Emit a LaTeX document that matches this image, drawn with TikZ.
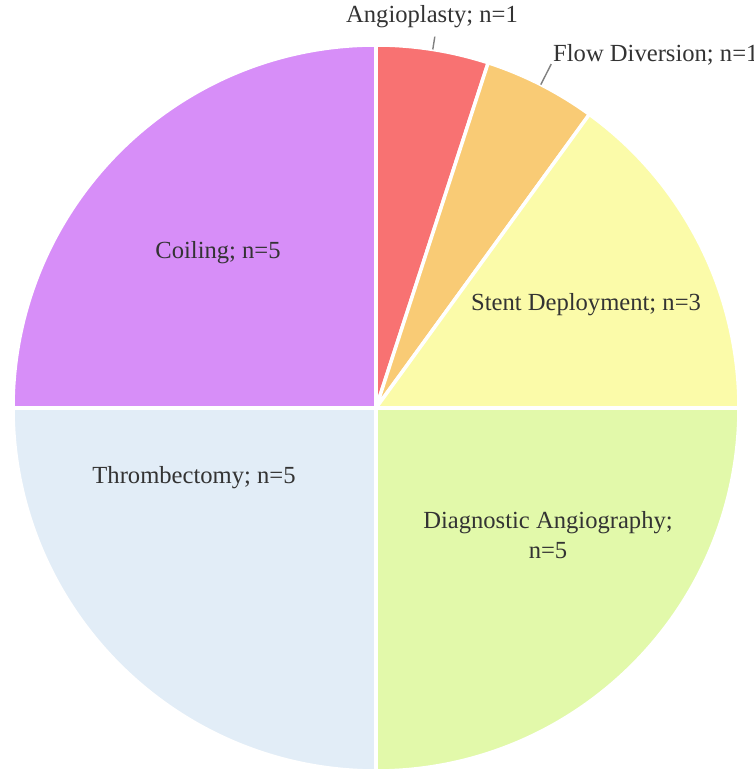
\documentclass[tikz,border=0pt]{standalone}
\usepackage{fontspec}
\setmainfont{Liberation Serif}
\usepackage{xcolor}
\usetikzlibrary{calc}
\definecolor{angio}{HTML}{F87272}
\definecolor{flow}{HTML}{F9CB75}
\definecolor{stent}{HTML}{FBFBA9}
\definecolor{diag}{HTML}{E2F9AA}
\definecolor{throm}{HTML}{E2EDF7}
\definecolor{coil}{HTML}{D78EF8}
\definecolor{txt}{HTML}{333333}
\tikzset{
  lbl/.style={text=txt, inner sep=1pt, font=\fontsize{7}{8.6}\selectfont, align=center},
  leader/.style={draw=gray, line width=0.4pt}
}

\begin{document}
\begin{tikzpicture}
\useasboundingbox (0,0) rectangle (7.54,7.71);
\coordinate (c) at (3.76,3.63);
\def\r{3.63}
% slices, clockwise from the top
\foreach \a/\b/\col in {90/72/angio, 72/54/flow, 54/0/stent, 0/-90/diag, -90/-180/throm, 180/90/coil} {
 \filldraw[fill=\col, draw=white, line width=1pt] (c) -- ++(\a:\r) arc[start angle=\a, end angle=\b, radius=\r] -- cycle;
}
% labels
\node[lbl] (coil-lbl) at (2.18,5.18) {Coiling; n=5};
\node[lbl] (throm-lbl) at (1.94,2.93) {Thrombectomy; n=5};
\node[lbl] (diag-lbl) at (5.48,2.36) {Diagnostic Angiography;\\ n=5};
\node[lbl] (stent-lbl) at (5.86,4.66) {Stent Deployment; n=3};
\node[lbl] (angio-lbl) at (4.32,7.54) {Angioplasty; n=1};
\node[lbl, anchor=west] (flow-lbl) at (5.49,7.16) {Flow Diversion; n=1};
% leader lines
\coordinate (angio-edge) at ($(c)+(81:\r)$);
\coordinate (angio-end) at ($(c)+(81:\r+0.13)$);
\coordinate (flow-edge) at ($(c)+(63:\r)$);
\coordinate (flow-end) at ($(c)+(63:\r+0.23)$);
\draw[leader] (angio-edge) -- (angio-end);
\draw[leader] (flow-edge) -- (flow-end);
\end{tikzpicture}
\end{document}
